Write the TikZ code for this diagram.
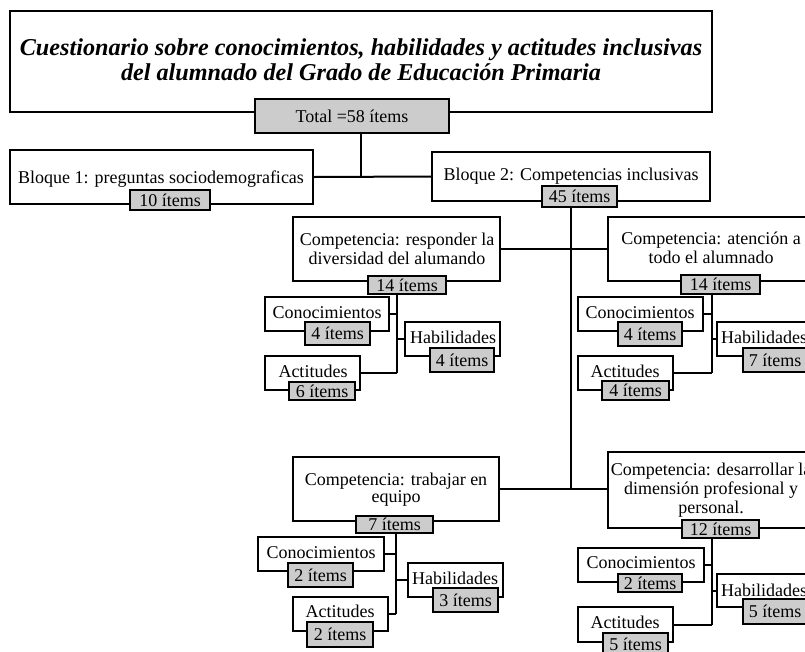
\documentclass[tikz,border=0pt]{standalone}
\usepackage{fontspec}
\setmainfont{Liberation Serif}
\newcommand\mybox[7]{\node[#6, minimum width={#4-#2}, minimum height={#5-#3}] (#1) at ({(#2+#4)/2},{(#3+#5)/2}) {#7};}
\begin{document}
\begin{tikzpicture}[x=1pt,y=-1pt,
  bx/.style={draw, line width=2pt, fill=white, inner sep=0pt},
  gbx/.style={draw, line width=2pt, fill=black!20, inner sep=0pt, font=\fontsize{18}{19}\selectfont},
  txt/.style={inner sep=0pt, align=center, font=\fontsize{18}{19}\selectfont},
  ln/.style={line width=2pt}]
\useasboundingbox (0,0) rectangle (805,651);
\clip (0,0) rectangle (805,651);
% title
\mybox{title}{10}{11}{712}{112}{bx}{}
\node[txt, font=\fontsize{24.2}{25}\selectfont\bfseries\itshape] (titlet) at (361,59.3) {Cuestionario sobre conocimientos, habilidades y actitudes inclusivas\\del alumnado del Grado de Educación Primaria};
\mybox{tot}{255}{99}{449}{133}{gbx}{Total =58 ítems}
% bloques
\mybox{b1}{10}{150}{313}{204}{bx}{}
\node[txt] (b1t) at (161,179) {Bloque 1: preguntas sociodemograficas};
\mybox{b1i}{130}{190}{210}{210}{gbx}{10 ítems}
\mybox{b2}{432}{152}{710}{201}{bx}{}
\node[txt] (b2t) at (571,176) {Bloque 2: Competencias inclusivas};
\mybox{b2i}{542}{186}{617}{207}{gbx}{45 ítems}
% competencia 1
\mybox{c1}{293}{217}{500}{281}{bx}{}
\node[txt] (c1t) at (397,248.4) {Competencia: responder la\\diversidad del alumando};
\mybox{c1i}{368}{276}{446}{294}{gbx}{14 ítems}
\mybox{k1}{265}{297}{389}{331}{bx}{}
\node[txt] (k1t) at (327,313) {Conocimientos};
\mybox{k1i}{305}{322}{370}{345}{gbx}{4 ítems}
\mybox{h1}{405}{322}{500}{356}{bx}{}
\node[txt] (h1t) at (453,337) {Habilidades};
\mybox{h1i}{430}{348}{494}{372}{gbx}{4 ítems}
\mybox{a1}{265}{356}{360}{390}{bx}{}
\node[txt] (a1t) at (313,371) {Actitudes};
\mybox{a1i}{289}{382}{355}{400}{gbx}{6 ítems}
% competencia 2
\mybox{c2}{608}{217}{815}{281}{bx}{}
\node[txt] (c2t) at (711,247.9) {Competencia: atención a\\todo el alumnado};
\mybox{c2i}{681}{275}{760}{294}{gbx}{14 ítems}
\mybox{k2}{578}{297}{703}{331}{bx}{}
\node[txt] (k2t) at (640,313) {Conocimientos};
\mybox{k2i}{618}{322}{682}{346}{gbx}{4 ítems}
\mybox{h2}{717}{322}{812}{356}{bx}{}
\node[txt] (h2t) at (764,337) {Habilidades};
\mybox{h2i}{743}{348}{807}{372}{gbx}{7 ítems}
\mybox{a2}{578}{356}{673}{390}{bx}{}
\node[txt] (a2t) at (625,371) {Actitudes};
\mybox{a2i}{602}{381}{669}{400}{gbx}{4 ítems}
% competencia 3
\mybox{c3}{293}{457}{499}{521}{bx}{}
\node[txt, font=\fontsize{18}{17}\selectfont] (c3t) at (396,489.3) {Competencia: trabajar en\\equipo};
\mybox{c3i}{356}{516}{433}{533}{gbx}{7 ítems}
\mybox{k3}{258}{537}{384}{571}{bx}{}
\node[txt] (k3t) at (321,553) {Conocimientos};
\mybox{k3i}{288}{563}{353}{587}{gbx}{2 ítems}
\mybox{h3}{408}{563}{503}{597}{bx}{}
\node[txt] (h3t) at (455,578) {Habilidades};
\mybox{h3i}{433}{588}{498}{612}{gbx}{3 ítems}
\mybox{a3}{293}{597}{388}{631}{bx}{}
\node[txt] (a3t) at (340,611) {Actitudes};
\mybox{a3i}{307}{622}{373}{647}{gbx}{2 ítems}
% competencia 4
\mybox{c4}{608}{452}{815}{528}{bx}{}
\node[txt] (c4t) at (711,489.8) {Competencia: desarrollar la\\dimensión profesional y\\personal.};
\mybox{c4i}{682}{520}{759}{538}{gbx}{12 ítems}
\mybox{k4}{578}{548}{704}{582}{bx}{}
\node[txt] (k4t) at (641,563) {Conocimientos};
\mybox{k4i}{618}{574}{682}{592}{gbx}{2 ítems}
\mybox{h4}{717}{574}{812}{607}{bx}{}
\node[txt] (h4t) at (764,590) {Habilidades};
\mybox{h4i}{743}{599}{807}{624}{gbx}{5 ítems}
\mybox{a4}{578}{607}{673}{642}{bx}{}
\node[txt] (a4t) at (625,622) {Actitudes};
\mybox{a4i}{603}{633}{668}{655}{gbx}{5 ítems}
% connectors
\draw[ln] (title.center |- tot.south) -- (title.center |- b1.east);
\draw[ln] (b1.east) -- (b2.west);
\draw[ln] (b2.center |- b2i.south) -- (b2.center |- c3.east);
\draw[ln] (c1.east) -- (c2.west);
\draw[ln] (c3.east) -- (c3.east -| c4.west);
\foreach \c/\k/\h/\a/\i in {c1/k1/h1/a1/c1i, c2/k2/h2/a2/c2i, c3/k3/h3/a3/c3i, c4/k4/h4/a4/c4i}{
  \draw[ln] (\c.center |- \i.south) -- (\c.center |- \a.east);
  \draw[ln] (\k.east) -- (\k.east -| \c.center);
  \draw[ln] (\h.west) -- (\h.west -| \c.center);
  \draw[ln] (\a.east) -- (\a.east -| \c.center);
}
\end{tikzpicture}
\end{document}
